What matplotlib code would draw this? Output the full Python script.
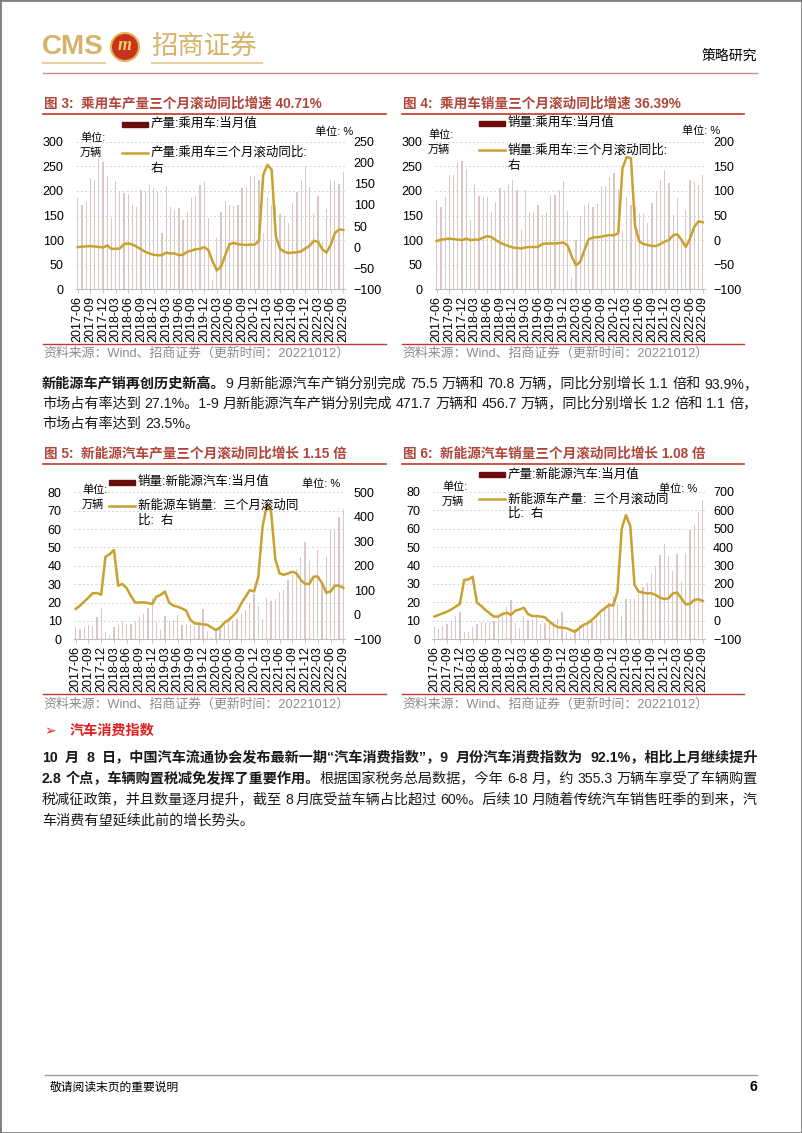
import numpy as np
import matplotlib
matplotlib.use('Agg')
import matplotlib.pyplot as plt
from matplotlib.patches import Rectangle, Ellipse
from matplotlib.lines import Line2D

plt.rcParams['font.family'] = ['Liberation Sans', 'Noto Sans CJK SC', 'DejaVu Sans']
plt.rcParams['axes.unicode_minus'] = True

W, H = 802, 1133
fig = plt.figure(figsize=(W / 100, H / 100), dpi=100)
fig.patch.set_facecolor('white')

# ---------------- data ----------------
tick_labels = ['2017-06', '2017-09', '2017-12', '2018-03', '2018-06', '2018-09',
               '2018-12', '2019-03', '2019-06', '2019-09', '2019-12', '2020-03',
               '2020-06', '2020-09', '2020-12', '2021-03', '2021-06', '2021-09',
               '2021-12', '2022-03', '2022-06', '2022-09']

# Fig 3: passenger car production, monthly (万辆) and 3-month rolling YoY (%)
car_prod = [185, 171, 178, 227, 222, 266, 259,
            230, 144, 221, 200, 195, 194, 171, 168, 202, 200, 211, 205,
            198, 114, 209, 168, 161, 165, 141, 158, 185, 190, 213, 219,
            144, 19, 104, 158, 180, 171, 169, 171, 205, 207, 230, 230,
            222, 114, 187, 171, 169, 153, 149, 134, 175, 198, 222, 250,
            207, 154, 190, 97, 163, 223, 221, 215, 238]
car_prod_yoy = [0, 1, 2, 2.5, 1.5, 0.5, -1,
                4, -4, -4, -3, 7, 9, 6, 1, -5, -11, -15, -18,
                -19.5, -19, -13, -15, -15, -19, -18, -11, -8, -5, -4, 0,
                -7, -34, -55, -46, -19, 7, 10, 7, 6, 5, 6, 6,
                15, 171, 195, 184, 25, -4, -11, -14, -13, -12, -10, -3,
                3, 15, 13, -5, -13, 5, 33, 42, 40.71]

# Fig 4: passenger car sales
car_sales = [181, 167, 187, 232, 232, 257, 261,
             244, 141, 214, 190, 187, 187, 158, 178, 205, 202, 215, 222,
             202, 120, 202, 157, 157, 171, 151, 158, 192, 192, 202, 221,
             160, 22, 100, 149, 171, 175, 167, 173, 209, 210, 228, 236,
             203, 120, 187, 171, 168, 156, 153, 134, 175, 200, 223, 242,
             217, 151, 185, 101, 161, 222, 219, 212, 232]
car_sales_yoy = [-2, 1, 2, 3, 2, 1, 0,
                 3, 0, 1, 1, 5, 8, 6, 0, -5, -9, -12, -15,
                 -16, -17, -15, -14, -14, -14, -8, -7, -7, -7, -6, -5,
                 -11, -34, -51, -44, -20, 2, 5, 6, 7, 9, 10, 10,
                 14, 146, 169, 166, 28, -3, -8, -10, -12, -12, -8, -3,
                 0, 10, 12, 0, -14, 3, 27, 38, 36.39]

# Fig 5: NEV sales
nev_sales = [6.7, 5.6, 6.8, 7.8, 7.1, 12.0, 16.8,
             3.8, 2.5, 6.8, 8.2, 10.2, 8.4, 8.4, 10.1, 12.1, 13.8, 17.0, 22.5,
             9.6, 5.3, 12.6, 9.7, 10.4, 13.4, 8.0, 8.5, 8.0, 7.5, 9.5, 16.3,
             4.4, 1.3, 5.3, 7.2, 8.2, 10.4, 9.8, 10.9, 13.8, 16.0, 20.0, 24.8,
             17.9, 11.0, 22.6, 20.6, 21.7, 25.6, 27.1, 32.1, 35.7, 38.3, 45.0, 53.1,
             43.1, 33.4, 48.4, 29.9, 44.7, 59.6, 59.3, 66.6, 70.8]
nev_sales_yoy = [24, 37, 54, 70, 88, 89, 82,
                 237, 247, 265, 119, 126, 108, 77, 50, 50, 51, 48, 44,
                 74, 81, 95, 50, 37, 33, 26, 17, -21, -35, -37, -39,
                 -41, -52, -62, -52, -32, -21, -5, 13, 47, 74, 101, 95,
                 156, 360, 448, 421, 227, 169, 163, 169, 176, 169, 142, 126,
                 126, 156, 156, 129, 90, 95, 119, 119, 110]

# Fig 6: NEV production
nev_prod = [6.5, 5.4, 7.2, 8.1, 9.7, 12.7, 14.9,
            4.1, 3.9, 6.8, 8.1, 9.6, 8.6, 9.5, 9.9, 12.7, 14.6, 17.3, 21.5,
            9.1, 5.9, 12.8, 10.2, 11.2, 13.4, 8.4, 8.7, 8.9, 9.5, 11.0, 14.9,
            4.2, 1.0, 5.5, 8.0, 8.5, 10.2, 10.0, 11.2, 13.6, 16.2, 19.8, 23.5,
            19.0, 12.4, 21.7, 21.7, 21.7, 24.8, 28.4, 30.5, 35.3, 39.7, 45.7, 51.7,
            45.2, 36.8, 46.5, 31.2, 46.6, 59.0, 61.7, 69.1, 75.5]
nev_prod_yoy = [23, 32, 41, 50, 62, 77, 91,
                221, 225, 239, 99, 81, 59, 41, 23, 23, 37, 44, 32,
                55, 62, 71, 37, 26, 26, 23, 19, -4, -22, -35, -37,
                -40, -49, -60, -40, -22, -13, 5, 26, 50, 68, 86, 83,
                158, 501, 573, 514, 194, 158, 153, 149, 149, 140, 126, 118,
                122, 149, 153, 122, 90, 91, 113, 117, 108]

# ---------------- style ----------------
GOLD = '#c9a12f'
BAR = '#dbc6c6'
BAR_LEG = '#6b0d0d'
TITLE_C = '#b0463a'
RED_LINE = '#c0392b'
TICK_FS = 9


def fx(x):
    return x / W


def fy(y):
    return 1 - y / H


def hline(x0, x1, y, color, lw):
    fig.add_artist(Line2D([fx(x0), fx(x1)], [fy(y), fy(y)], color=color, lw=lw,
                          transform=fig.transFigure, zorder=5))


def chart(box, bars, line, lylim, lyticks, rylim, ryticks):
    l, r, t, b = box
    ax = fig.add_axes([fx(l), fy(b), (r - l) / W, (b - t) / H])
    x = np.arange(len(bars))
    ax.bar(x, bars, width=0.3, color=BAR, zorder=2)
    ax.set_xlim(-0.5, len(bars) - 0.5)
    ax.set_ylim(*lylim)
    ax.set_yticks(lyticks)
    ax.set_xticks(np.arange(0, len(bars), 3))
    ax.set_xticklabels(tick_labels, rotation=90)
    ax.grid(axis='y', color='#d2d2d2', lw=0.6, ls=(0, (2.5, 2.5)))
    ax.set_axisbelow(True)
    for s in ['left', 'right', 'top']:
        ax.spines[s].set_visible(False)
    ax.spines['bottom'].set_color('#bdbdbd')
    ax.spines['bottom'].set_linewidth(0.8)
    ax.tick_params(axis='y', length=0, pad=8.6, labelsize=TICK_FS)
    ax.tick_params(axis='x', length=3, width=0.6, color='#bdbdbd', pad=2,
                   labelsize=TICK_FS)
    ax2 = ax.twinx()
    ax2.plot(x, line, color=GOLD, lw=1.8, zorder=3)
    ax2.set_ylim(*rylim)
    ax2.set_yticks(ryticks)
    for s in ax2.spines.values():
        s.set_visible(False)
    ax2.tick_params(axis='y', length=0, pad=6, labelsize=TICK_FS)
    return ax, ax2


def legend(x0, y_bar, t1, y_line, t2, y_t3, t3, unit_xy, unitr_xy):
    fig.add_artist(Rectangle((fx(x0), fy(y_bar + 2.5)), 26 / W, 5 / H,
                             color=BAR_LEG, transform=fig.transFigure, zorder=6))
    fig.text(fx(x0 + 29), fy(y_bar), t1, fontsize=9, va='center', zorder=6)
    fig.add_artist(Line2D([fx(x0), fx(x0 + 26)], [fy(y_line)] * 2, color=GOLD,
                          lw=1.8, transform=fig.transFigure, zorder=6))
    fig.text(fx(x0 + 29), fy(y_line), t2, fontsize=9, va='center', zorder=6)
    fig.text(fx(x0 + 29), fy(y_t3), t3, fontsize=9, va='center', zorder=6)
    ux, uy = unit_xy
    fig.text(fx(ux), fy(uy), '单位:', fontsize=8, va='center', zorder=6)
    fig.text(fx(ux), fy(uy + 15), '万辆', fontsize=8, va='center', zorder=6)
    fig.text(fx(unitr_xy[0]), fy(unitr_xy[1]), '单位: %', fontsize=8,
             va='center', ha='right', zorder=6)


def title(x0, x1, y, text):
    fig.text(fx(x0), fy(y), text, fontsize=9.8, fontweight='bold', color=TITLE_C,
             va='center')
    hline(x0 - 1, x1, y + 9.5, RED_LINE, 1.2)


SOURCE = '资料来源：Wind、招商证券（更新时间：20221012）'

# ---------------- header ----------------
fig.add_artist(Rectangle((0, 0), 1, 1, fill=False, edgecolor='#7f7f7f', lw=2,
                         transform=fig.transFigure, zorder=10))
LOGO = '#d6b36a'
fig.text(fx(42), fy(47), 'CMS', fontsize=20, fontweight='bold', color=LOGO,
         va='center', family='Liberation Sans')
fig.add_artist(Ellipse((fx(125), fy(47)), 28 / W, 28 / H, facecolor='#c8321e',
                       edgecolor='#e3b554', lw=1.5, transform=fig.transFigure))
fig.text(fx(125), fy(46), 'm', fontsize=13, fontweight='bold', style='italic',
         color='#f2cf6a', ha='center', va='center', family='Liberation Serif')
fig.text(fx(151), fy(46), '招商证券', fontsize=19, color=LOGO, va='center',
         family='Noto Sans CJK SC')
hline(43, 105, 63, '#e5d09e', 1.5)
hline(152, 262, 63, '#e5d09e', 1.5)
hline(43, 757, 73, '#d98a8a', 1.0)
fig.text(fx(757), fy(56), '策略研究', fontsize=10, ha='right', va='center',
         family='Noto Sans CJK SC')

# ---------------- charts row 1 ----------------
title(44, 386, 104, '图 3:  乘用车产量三个月滚动同比增速 40.71%')
title(403, 744, 104, '图 4:  乘用车销量三个月滚动同比增速 36.39%')

chart((75.6, 345.4, 141.7, 289.3), car_prod, car_prod_yoy,
      (0, 300), range(0, 301, 50), (-100, 250), range(-100, 251, 50))
legend(122, 124, '产量:乘用车:当月值', 152.5, '产量:乘用车三个月滚动同比:',
       169, '右', (80, 137.5), (353, 132))

chart((434.6, 704.8, 141.7, 289.3), car_sales, car_sales_yoy,
      (0, 300), range(0, 301, 50), (-100, 200), range(-100, 201, 50))
legend(479, 123, '销量:乘用车:当月值', 150, '销量:乘用车:三个月滚动同比:',
       166, '右', (428, 135), (720, 131))

hline(43, 386, 344, RED_LINE, 1.0)
hline(402, 744, 344, RED_LINE, 1.0)
fig.text(fx(43), fy(354), SOURCE, fontsize=9.3, color='#8c8c8c', va='center')
fig.text(fx(402), fy(354), SOURCE, fontsize=9.3, color='#8c8c8c', va='center')

# ---------------- body text helpers ----------------
renderer = fig.canvas.get_renderer()
BODY_FS = 10.2


def draw_line(y, segs, justify=True, x0=42, x1=758, size=BODY_FS):
    pieces = []
    for txt, bold in segs:
        parts = txt.split(' ')
        for i, p in enumerate(parts):
            if p == '':
                continue
            pieces.append([p, bold, i > 0])
    if pieces:
        pieces[0][2] = False
    texts = []
    widths = []
    for p, bold, gap in pieces:
        t = fig.text(0, fy(y), p, fontsize=size, va='center',
                     fontweight='bold' if bold else 'normal', color='#1a1a1a')
        texts.append(t)
        widths.append(t.get_window_extent(renderer).width)
    ngaps = sum(1 for p in pieces if p[2])
    sp_t = fig.text(0, 0, 'a a', fontsize=size)
    sp_a = fig.text(0, 0, 'aa', fontsize=size)
    nat = sp_t.get_window_extent(renderer).width - sp_a.get_window_extent(renderer).width
    sp_t.remove()
    sp_a.remove()
    if justify and ngaps > 0:
        space = (x1 - x0 - sum(widths)) / ngaps
    else:
        space = nat
    x = x0
    for t, w, pc in zip(texts, widths, pieces):
        if pc[2]:
            x += space
        t.set_x(fx(x))
        x += w


draw_line(384, [('新能源车产销再创历史新高。', True),
                ('9 月新能源汽车产销分别完成 75.5 万辆和 70.8 万辆，同比分别增长 1.1 倍和 93.9%，', False)])
draw_line(404, [('市场占有率达到 27.1%。1-9 月新能源汽车产销分别完成 471.7 万辆和 456.7 万辆，同比分别增长 1.2 倍和 1.1 倍，', False)])
draw_line(424, [('市场占有率达到 23.5%。', False)], justify=False)

# ---------------- charts row 2 ----------------
title(44, 386, 454, '图 5:  新能源汽车产量三个月滚动同比增长 1.15 倍')
title(403, 744, 454, '图 6:  新能源汽车销量三个月滚动同比增长 1.08 倍')

chart((73.6, 345.4, 492.3, 639.3), nev_sales, nev_sales_yoy,
      (0, 80), range(0, 81, 10), (-100, 500), range(-100, 501, 100))
legend(109, 482, '销量:新能源汽车:当月值', 505.5, '新能源车销量:  三个月滚动同',
       521, '比:  右', (82, 490), (340, 484))

chart((432.2, 704.8, 491.7, 639.3), nev_prod, nev_prod_yoy,
      (0, 80), range(0, 81, 10), (-100, 700), range(-100, 701, 100))
legend(479, 475, '产量:新能源汽车:当月值', 499, '新能源车产量:  三个月滚动同',
       514, '比:  右', (442, 487), (697, 489))

hline(43, 386, 694, RED_LINE, 1.0)
hline(402, 744, 694, RED_LINE, 1.0)
fig.text(fx(43), fy(705), SOURCE, fontsize=9.3, color='#8c8c8c', va='center')
fig.text(fx(402), fy(705), SOURCE, fontsize=9.3, color='#8c8c8c', va='center')

# ---------------- section ----------------
fig.text(fx(44), fy(731), '➢', fontsize=10, color='#e02020', va='center',
         family='DejaVu Sans')
fig.text(fx(70), fy(731), '汽车消费指数', fontsize=10.2, color='#e02020',
         fontweight='bold', va='center')

draw_line(758, [('10 月 8 日，中国汽车流通协会发布最新一期“汽车消费指数”，9 月份汽车消费指数为 92.1%，相比上月继续提升', True)])
draw_line(779, [('2.8 个点，车辆购置税减免发挥了重要作用。', True),
                ('根据国家税务总局数据，今年 6-8 月，约 355.3 万辆车享受了车辆购置', False)])
draw_line(800, [('税减征政策，并且数量逐月提升，截至 8 月底受益车辆占比超过 60%。后续 10 月随着传统汽车销售旺季的到来，汽', False)])
draw_line(821, [('车消费有望延续此前的增长势头。', False)], justify=False)

# ---------------- footer ----------------
hline(45, 757, 1075, '#9a9a9a', 1.0)
fig.text(fx(50), fy(1087), '敬请阅读末页的重要说明', fontsize=8.5, va='center',
         family='Noto Sans CJK SC')
fig.text(fx(757), fy(1087), '6', fontsize=10, fontweight='bold', ha='right',
         va='center')

fig.savefig('out.png', dpi=100)
